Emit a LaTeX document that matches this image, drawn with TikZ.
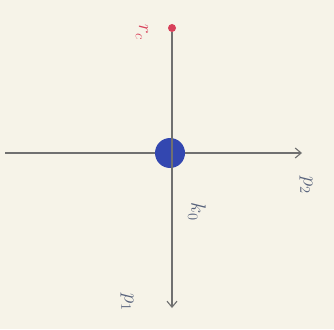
\documentclass[tikz,border=0pt]{standalone}
\usetikzlibrary{arrows.meta}
\definecolor{paper}{HTML}{F6F3E8}
\definecolor{pen}{HTML}{707070}
\definecolor{bluedot}{HTML}{3347B0}
\definecolor{reddot}{HTML}{D8405A}
\definecolor{lbl}{HTML}{55607A}
\begin{document}
\begin{tikzpicture}[x=1pt,y=-1pt,
  axis/.style={draw=pen,line width=1.1pt},
  arr/.style={axis,-{Straight Barb[length=6pt,width=10pt]}},
  lab/.style={text=lbl,font=\huge,rotate=-90,inner sep=0pt}]
\fill[paper] (0,0) rectangle (334,329);
\useasboundingbox (0,0) rectangle (334,329);
\coordinate (left) at (5,153);
\coordinate (right) at (302,153);
\coordinate (center) at (172,153);
\coordinate (bottom) at (172,308);
\node[circle,fill=reddot,minimum size=8pt,inner sep=0pt] (rc) at (172,28) {};
\node[circle,fill=bluedot,minimum size=30pt,inner sep=0pt] (k0) at (170,153) {};
\draw[axis] (rc) -- (center);
\draw[arr] (center) -- (bottom);
\draw[axis] (left) -- (k0);
\draw[arr] (k0) -- (right);
\node[lab,text=reddot] (lrc) at (142,32) {$r_c$};
\node[lab] (lk0) at (197,212) {$k_0$};
\node[lab] (lp2) at (306,185) {$p_2$};
\node[lab] (lp1) at (127,302) {$p_1$};
\end{tikzpicture}
\end{document}
